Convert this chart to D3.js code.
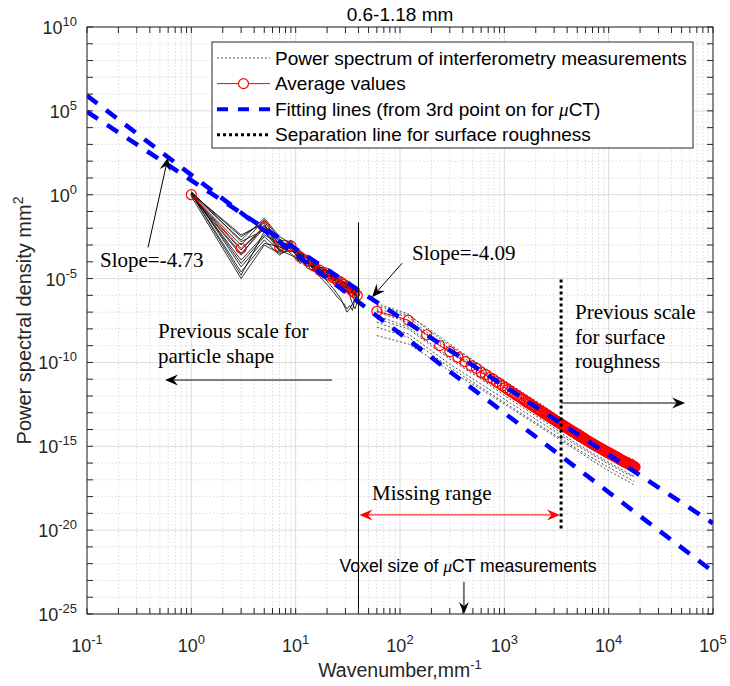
<!DOCTYPE html>
<html><head><meta charset="utf-8">
<script src="https://cdn.jsdelivr.net/npm/d3@7"></script>
<style>body{margin:0;background:#fff}</style>
</head><body><svg id="c" width="730" height="686"></svg>
<script>
// ---------------- DATA ----------------
const title = "0.6-1.18 mm";
const xTickExp = [-1,0,1,2,3,4,5];
const yTickExp = [10,5,0,-5,-10,-15,-20,-25];

// uCT wavenumbers and log10(PSD) of the individual curves
const ctX = [1,3,5,7,9,11,13,15,17,19,21,23,25,27,29,31,33,35,37,39];
const ctAvgLog = [0.0,-3.2,-1.9,-3.1,-3.05,-3.7,-3.95,-4.25,-4.5,-4.65,-4.8,-4.95,-5.1,-5.2,-5.35,-5.45,-5.6,-5.75,-5.85,-6.0];
const ctCurve1 = [0.1,-2.5,-1.6,-2.8,-3.0,-3.5,-3.7,-4.1,-4.3,-4.5,-4.6,-4.8,-4.9,-5.0,-5.2,-5.3,-5.4,-5.6,-5.7,-5.8];
const ctCurve2 = [0.05,-4.8,-2.2,-3.3,-2.9,-3.9,-4.1,-4.3,-4.7,-4.6,-5.0,-5.1,-5.0,-5.4,-5.3,-5.6,-5.5,-5.9,-5.8,-6.1];
const ctCurve3 = [0.0,-3.0,-1.5,-2.6,-3.3,-3.6,-4.2,-4.0,-4.4,-4.9,-4.7,-5.2,-5.3,-5.1,-5.5,-5.4,-5.7,-5.6,-6.0,-5.9];
const ctCurve4 = [0.15,-4.3,-2.7,-3.6,-3.1,-3.4,-3.8,-4.5,-4.6,-4.4,-4.9,-4.8,-5.4,-5.3,-5.2,-5.7,-5.8,-5.7,-5.9,-6.2];
const ctCurve5 = [-0.05,-3.6,-1.8,-3.0,-3.5,-4.0,-3.9,-4.2,-4.9,-5.2,-5.5,-5.8,-6.1,-6.3,-6.5,-6.8,-6.6,-6.9,-6.2,-6.5];
const ctCurve6 = [0.2,-2.8,-2.1,-3.2,-2.7,-3.7,-4.0,-4.4,-4.3,-4.7,-4.85,-4.9,-5.0,-5.3,-5.4,-5.3,-5.6,-5.8,-5.9,-5.8];
const ctCurve7 = [0.0,-3.9,-2.4,-2.9,-3.2,-3.8,-4.3,-4.2,-4.5,-4.6,-4.7,-5.0,-5.2,-5.1,-5.3,-5.5,-5.7,-5.9,-5.7,-6.0];
const ctCurve8 = [0.1,-2.4,-1.7,-3.4,-3.0,-3.6,-3.6,-4.3,-4.4,-4.8,-4.9,-4.7,-5.1,-5.2,-5.6,-5.4,-5.5,-5.7,-6.1,-6.3];
const ctCurve9 = [0.05,-4.6,-2.9,-3.1,-3.4,-3.3,-4.1,-4.1,-4.6,-4.5,-4.6,-5.0,-5.3,-5.5,-5.4,-5.6,-6.0,-6.5,-6.8,-6.4];
const ctCurve10 = [0.0,-3.3,-1.9,-2.7,-2.8,-4.1,-3.9,-4.6,-4.4,-4.7,-5.1,-5.3,-5.2,-5.0,-5.2,-5.5,-5.6,-5.6,-5.8,-5.5];
const ctCurve11 = [0.1,-4.1,-2.5,-3.3,-3.6,-3.9,-4.0,-4.4,-4.6,-4.9,-4.8,-5.1,-5.2,-5.4,-5.5,-5.6,-5.9,-5.8,-6.0,-6.1];
const ctCurve12 = [0.0,-3.5,-2.0,-2.9,-3.1,-3.5,-4.1,-4.2,-4.4,-4.7,-5.0,-4.9,-5.1,-5.3,-5.3,-5.4,-5.6,-5.8,-5.9,-6.0];
const ctCurve13 = [0.05,-2.7,-1.4,-2.5,-2.9,-3.6,-3.8,-4.0,-4.3,-4.4,-4.6,-4.9,-5.0,-5.1,-5.3,-5.2,-5.5,-5.5,-5.7,-5.8];
const ctCurve14 = [-0.1,-5.0,-3.0,-3.5,-3.3,-3.8,-4.4,-4.5,-4.8,-5.0,-5.3,-5.6,-5.9,-6.2,-6.6,-7.0,-6.8,-6.5,-6.3,-6.1];
const ctCurves = [ctCurve1,ctCurve2,ctCurve3,ctCurve4,ctCurve5,ctCurve6,ctCurve7,ctCurve8,ctCurve9,ctCurve10,ctCurve11,ctCurve12,ctCurve13,ctCurve14];

// interferometry curves (dotted)
const ifX = [60,120,180,300,600,1200,2400,4800,9600,14400,17500];
const ifCurve1 = [-6.5,-7.1,-8.0,-9.0,-10.2,-11.4,-12.6,-13.9,-15.0,-15.6,-15.8];
const ifCurve2 = [-6.8,-7.3,-8.2,-9.2,-10.4,-11.6,-12.8,-14.0,-15.2,-15.8,-16.0];
const ifCurve3 = [-7.0,-7.6,-8.4,-9.4,-10.6,-11.8,-13.0,-14.3,-15.4,-16.0,-16.2];
const ifCurve4 = [-7.2,-7.9,-8.7,-9.7,-10.9,-12.1,-13.3,-14.6,-15.7,-16.3,-16.5];
const ifCurve5 = [-7.6,-8.3,-9.1,-10.1,-11.3,-12.5,-13.7,-14.9,-16.0,-16.6,-16.8];
const ifCurve6 = [-8.4,-8.9,-9.6,-10.5,-11.6,-12.8,-14.0,-15.2,-16.4,-17.0,-17.3];
const ifCurve7 = [-6.6,-7.2,-7.9,-8.9,-10.2,-11.5,-12.7,-14.0,-15.1,-15.7,-15.9];
const ifCurve8 = [-7.4,-8.0,-8.8,-9.8,-11.0,-12.3,-13.5,-14.8,-15.9,-16.5,-16.8];
const ifCurve9 = [-6.9,-7.5,-8.3,-9.3,-10.5,-11.7,-12.9,-14.2,-15.3,-15.9,-16.1];
const ifCurve10 = [-7.9,-8.5,-9.3,-10.3,-11.5,-12.7,-13.9,-15.1,-16.2,-16.8,-17.1];
const ifCurves = [ifCurve1,ifCurve2,ifCurve3,ifCurve4,ifCurve5,ifCurve6,ifCurve7,ifCurve8,ifCurve9,ifCurve10];

// interferometry average values (wavenumber, log10 PSD)
const ifAvgX = [60,120,180,240,300,360,420,480,540,600,660,720,780,840,900,960,1020,
 1080,1140,1200,1260,1320,1380,1440,1500,1560,1620,1680,1740,1800,1860,1920,1980,2040,2100,2160,2220,2280,2340,2400,2460,2520,2580,2640,2700,2760,2820,2880,2940,3000,
 3080,3160,3240,3320,3400,3480,3560,3640,3720,3800,3880,3960,4040,4120,4200,4280,4360,4440,4520,4600,4680,4760,4840,4920,5000,5080,5160,5240,5320,5400,5480,5560,5640,5720,5800,5880,5960,
 6120,6280,6440,6600,6760,6920,7080,7240,7400,7560,7720,7880,8040,8200,8360,8520,8680,8840,9000,9160,9320,9480,9640,9800,9960,10120,10280,10440,10600,10760,10920,11080,11240,11400,11560,11720,11880,
 12120,12360,12600,12840,13080,13320,13560,13800,14040,14280,14520,14760,15000,15240,15480,15720,15960,16200,16440,16680,16920,17160,17400,17640,17880];
const ifAvgLog = [-6.95,-7.48,-8.35,-9.0,-9.35,-9.7,-9.95,-10.2,-10.35,-10.6,-10.72,-10.9,-11.0,-11.16,-11.26,-11.4,-11.5,
 -11.62,-11.70,-11.80,-11.88,-11.97,-12.04,-12.13,-12.19,-12.27,-12.33,-12.40,-12.45,-12.52,-12.57,-12.63,-12.68,-12.75,-12.79,-12.84,-12.89,-12.93,-12.98,-13.03,-13.06,-13.11,-13.14,-13.19,-13.22,-13.27,-13.30,-13.35,-13.38,-13.41,
 -13.46,-13.50,-13.55,-13.58,-13.63,-13.67,-13.71,-13.74,-13.78,-13.82,-13.85,-13.89,-13.92,-13.96,-13.99,-14.02,-14.06,-14.09,-14.12,-14.14,-14.17,-14.20,-14.23,-14.26,-14.28,-14.31,-14.33,-14.36,-14.39,-14.41,-14.44,-14.46,-14.49,-14.51,-14.53,-14.56,-14.58,
 -14.63,-14.67,-14.71,-14.75,-14.79,-14.83,-14.86,-14.90,-14.93,-14.97,-15.00,-15.03,-15.06,-15.09,-15.12,-15.15,-15.18,-15.21,-15.23,-15.26,-15.29,-15.31,-15.34,-15.36,-15.39,-15.41,-15.43,-15.45,-15.48,-15.50,-15.52,-15.54,-15.56,-15.58,-15.60,-15.62,-15.64,
 -15.68,-15.71,-15.74,-15.77,-15.80,-15.83,-15.85,-15.88,-15.90,-15.93,-15.95,-15.97,-16.00,-16.02,-16.04,-16.06,-16.08,-16.10,-16.12,-16.14,-16.16,-16.18,-16.20,-16.22,-16.25];

// fitting lines: x ends and log10 y ends
const fitX = [0.1, 1e5];
const fitCTLog = [5.91, -22.47];    // slope -4.73
const fitIFLog = [4.95, -19.59];    // slope -4.09

// reference lines
const voxelLineX = 40, voxelLineLog = [-1.65, -25];
const sepLineX = 3500, sepLineLog = [-5.06, -20];

const legendLabels = ["Power spectrum of interferometry measurements","Average values","Fitting lines (from 3rd point on for ","Separation line for surface roughness"];

// ---------------- DRAW ----------------
const svg = d3.select("#c");
const L=87, R=713, T=27, B=614;
const x = d3.scaleLog().domain([0.1,1e5]).range([L,R]);
const y = d3.scaleLog().domain([1e-25,1e10]).range([B,T]);
const yl = v => y(Math.pow(10, v));
const P = (lx, ly) => [x(Math.pow(10,lx)), yl(ly)];
const SANS = "'Liberation Sans', Arial, Helvetica, sans-serif";
const SERIF = "'Liberation Serif', 'Times New Roman', serif";
const axisCol = "#262626";

svg.append("rect").attr("width",730).attr("height",686).attr("fill","#fff");
svg.append("defs").append("clipPath").attr("id","clip").append("rect")
  .attr("x",L).attr("y",T).attr("width",R-L).attr("height",B-T);

// grid
const grid = svg.append("g");
const xMinor = [];
for (let e=-1;e<5;e++) for (let m=2;m<=9;m++) xMinor.push(m*Math.pow(10,e));
const yMinorExp = d3.range(-25,11).filter(e=>e%5!==0);
grid.selectAll(".xm").data(xMinor).join("line")
  .attr("x1",d=>x(d)).attr("x2",d=>x(d)).attr("y1",T).attr("y2",B)
  .attr("stroke","#d4d4d4").attr("stroke-width",0.8).attr("stroke-dasharray","1.5,2");
grid.selectAll(".ym").data(yMinorExp).join("line")
  .attr("x1",L).attr("x2",R).attr("y1",d=>yl(d)).attr("y2",d=>yl(d))
  .attr("stroke","#d4d4d4").attr("stroke-width",0.8).attr("stroke-dasharray","1.5,2");
grid.selectAll(".xM").data(xTickExp).join("line")
  .attr("x1",d=>x(Math.pow(10,d))).attr("x2",d=>x(Math.pow(10,d))).attr("y1",T).attr("y2",B)
  .attr("stroke","#dcdcdc").attr("stroke-width",1);
grid.selectAll(".yM").data(yTickExp).join("line")
  .attr("x1",L).attr("x2",R).attr("y1",d=>yl(d)).attr("y2",d=>yl(d))
  .attr("stroke","#dcdcdc").attr("stroke-width",1);

// data
const plot = svg.append("g").attr("clip-path","url(#clip)");
const line = d3.line().x(d=>x(d[0])).y(d=>yl(d[1]));

ctCurves.forEach(c=>{
  plot.append("path").attr("d", line(ctX.map((v,i)=>[v,c[i]])))
    .attr("fill","none").attr("stroke","#000").attr("stroke-width",0.8);
});
ifCurves.forEach(c=>{
  plot.append("path").attr("d", line(ifX.map((v,i)=>[v,c[i]])))
    .attr("fill","none").attr("stroke","#222").attr("stroke-width",0.8).attr("stroke-dasharray","2,2");
});

const ctAvg = ctX.map((v,i)=>[v,ctAvgLog[i]]);
const ifAvg = ifAvgX.map((v,i)=>[v,ifAvgLog[i]]);
[ctAvg, ifAvg].forEach(s=>{
  plot.append("path").attr("d", line(s)).attr("fill","none").attr("stroke","#ff0000").attr("stroke-width",1);
  plot.selectAll(null).data(s).join("circle")
    .attr("cx",d=>x(d[0])).attr("cy",d=>yl(d[1])).attr("r",5)
    .attr("fill","none").attr("stroke","#ff0000").attr("stroke-width",1.2);
});

[fitCTLog, fitIFLog].forEach(f=>{
  plot.append("path").attr("d", line(fitX.map((v,i)=>[v,f[i]])))
    .attr("fill","none").attr("stroke","#0000ff").attr("stroke-width",4.5).attr("stroke-dasharray","13,11");
});

// separation & voxel lines
plot.append("line").attr("x1",x(sepLineX)).attr("x2",x(sepLineX))
  .attr("y1",yl(sepLineLog[0])).attr("y2",yl(sepLineLog[1]))
  .attr("stroke","#000").attr("stroke-width",3).attr("stroke-dasharray","3,3");
plot.append("line").attr("x1",x(voxelLineX)).attr("x2",x(voxelLineX))
  .attr("y1",yl(voxelLineLog[0])).attr("y2",yl(voxelLineLog[1]))
  .attr("stroke","#000").attr("stroke-width",1);

// axes box & ticks
const ax = svg.append("g");
ax.append("rect").attr("x",L).attr("y",T).attr("width",R-L).attr("height",B-T)
  .attr("fill","none").attr("stroke",axisCol).attr("stroke-width",1);
const tl = 6;
const xAllTicks = xTickExp.map(e=>Math.pow(10,e)).concat(xMinor);
xAllTicks.forEach(v=>{
  const px=x(v);
  ax.append("line").attr("x1",px).attr("x2",px).attr("y1",B).attr("y2",B-tl).attr("stroke",axisCol);
  ax.append("line").attr("x1",px).attr("x2",px).attr("y1",T).attr("y2",T+tl).attr("stroke",axisCol);
});
d3.range(-25,11).forEach(e=>{
  const py=yl(e);
  ax.append("line").attr("x1",L).attr("x2",L+tl).attr("y1",py).attr("y2",py).attr("stroke",axisCol);
  ax.append("line").attr("x1",R).attr("x2",R-tl).attr("y1",py).attr("y2",py).attr("stroke",axisCol);
});
// tick labels
xTickExp.forEach(e=>{
  const t = ax.append("text").attr("x",x(Math.pow(10,e))).attr("y",652)
    .attr("text-anchor","middle").attr("font-family",SANS).attr("font-size",18).attr("fill",axisCol);
  t.append("tspan").text("10");
  t.append("tspan").attr("dy",-8).attr("font-size",13).text(e);
});
yTickExp.forEach(e=>{
  const t = ax.append("text").attr("x",77).attr("y",yl(e)+7)
    .attr("text-anchor","end").attr("font-family",SANS).attr("font-size",18).attr("fill",axisCol);
  t.append("tspan").text("10");
  t.append("tspan").attr("dy",-8).attr("font-size",13).text(e);
});
// axis labels & title
const xlab = ax.append("text").attr("x",(L+R)/2).attr("y",677).attr("text-anchor","middle")
  .attr("font-family",SANS).attr("font-size",19.5).attr("fill",axisCol);
xlab.append("tspan").text("Wavenumber,mm");
xlab.append("tspan").attr("dy",-8).attr("font-size",13).text("-1");
const ylab = ax.append("text").attr("transform",`translate(31,${(T+B)/2}) rotate(-90)`).attr("text-anchor","middle")
  .attr("font-family",SANS).attr("font-size",20).attr("fill",axisCol);
ylab.append("tspan").text("Power spectral density mm");
ylab.append("tspan").attr("dy",-8).attr("font-size",14).text("2");
svg.append("text").attr("x",(L+R)/2).attr("y",21).attr("text-anchor","middle")
  .attr("font-family",SANS).attr("font-size",19).attr("fill","#000").text(title);

// ---------- annotations ----------
const ann = svg.append("g");
function arrow(p1, p2, color, len=13, w=5.5) {
  const [x1,y1]=p1,[x2,y2]=p2;
  const a=Math.atan2(y2-y1,x2-x1), c=Math.cos(a), s=Math.sin(a);
  ann.append("line").attr("x1",x1).attr("y1",y1).attr("x2",x2-len*0.6*c).attr("y2",y2-len*0.6*s)
    .attr("stroke",color).attr("stroke-width",1);
  const pts=[[x2,y2],[x2-len*c-w*s, y2-len*s+w*c],[x2-len*0.65*c,y2-len*0.65*s],[x2-len*c+w*s, y2-len*s-w*c]];
  ann.append("polygon").attr("points",pts.map(p=>p.join(",")).join(" ")).attr("fill",color);
}
function stext(p, lines, size=21, fam=SERIF, anchor="start", lh=24.5) {
  const t = ann.append("text").attr("x",p[0]).attr("y",p[1]).attr("font-family",fam)
    .attr("font-size",size).attr("fill","#000").attr("text-anchor",anchor);
  lines.forEach((l,i)=>t.append("tspan").attr("x",p[0]).attr("dy",i?lh:0).text(l));
  return t;
}
// slope -4.73
arrow(P(-0.415,-3.14), P(-0.224,2.22), "#000");
stext(P(-0.875,-4.33), ["Slope=-4.73"]);
// slope -4.09
arrow(P(2.019,-4.09), P(1.732,-6.11), "#000");
stext(P(2.115,-3.90), ["Slope=-4.09"]);
// previous scale surface roughness
stext(P(3.677,-7.42), ["Previous scale","for surface","roughness"]);
arrow(P(3.543,-12.42), P(4.732,-12.42), "#000");
// previous scale particle shape
stext(P(-0.319,-8.55), ["Previous scale for","particle shape"]);
arrow(P(1.348,-11.05), P(-0.252,-11.05), "#000");
// missing range
stext(P(1.732,-18.2), ["Missing range"]);
arrow(P(2.6,-19.09), P(1.612,-19.09), "#ff0000");
arrow(P(2.6,-19.09), P(3.533,-19.09), "#ff0000");
// voxel size
const vt = stext(P(2.652,-22.48), [""], 17.6, SANS, "middle");
vt.select("tspan").text("Voxel size of ");
vt.append("tspan").attr("font-family",SERIF).attr("font-style","italic").text("\u03bc");
vt.append("tspan").text("CT measurements");
arrow(P(2.613,-23.08), P(2.613,-25), "#000", 12, 5);

// ---------- legend ----------
const lg = svg.append("g");
lg.append("rect").attr("x",212).attr("y",42).attr("width",481).attr("height",106)
  .attr("fill","#fff").attr("stroke",axisCol).attr("stroke-width",1);
const rowY = [58, 83.6, 109.2, 134.8];
lg.append("line").attr("x1",217).attr("x2",270).attr("y1",rowY[0]).attr("y2",rowY[0])
  .attr("stroke","#222").attr("stroke-width",0.8).attr("stroke-dasharray","2,2");
lg.append("line").attr("x1",217).attr("x2",270).attr("y1",rowY[1]).attr("y2",rowY[1])
  .attr("stroke","#ff0000").attr("stroke-width",1);
lg.append("circle").attr("cx",243.5).attr("cy",rowY[1]).attr("r",5).attr("fill","#fff").attr("stroke","#ff0000").attr("stroke-width",1.2);
lg.append("line").attr("x1",217).attr("x2",270).attr("y1",rowY[2]).attr("y2",rowY[2])
  .attr("stroke","#0000ff").attr("stroke-width",4).attr("stroke-dasharray","11,10");
lg.append("line").attr("x1",217).attr("x2",270).attr("y1",rowY[3]).attr("y2",rowY[3])
  .attr("stroke","#000").attr("stroke-width",3).attr("stroke-dasharray","3,3");
legendLabels.forEach((l,i)=>{
  const t = lg.append("text").attr("x",275).attr("y",rowY[i]+6.5).attr("font-family",SANS)
    .attr("font-size",19).attr("fill","#000");
  t.append("tspan").text(l);
  if (i===2) {
    t.append("tspan").attr("font-family",SERIF).attr("font-style","italic").text("\u03bc");
    t.append("tspan").text("CT)");
  }
});
</script></body></html>
